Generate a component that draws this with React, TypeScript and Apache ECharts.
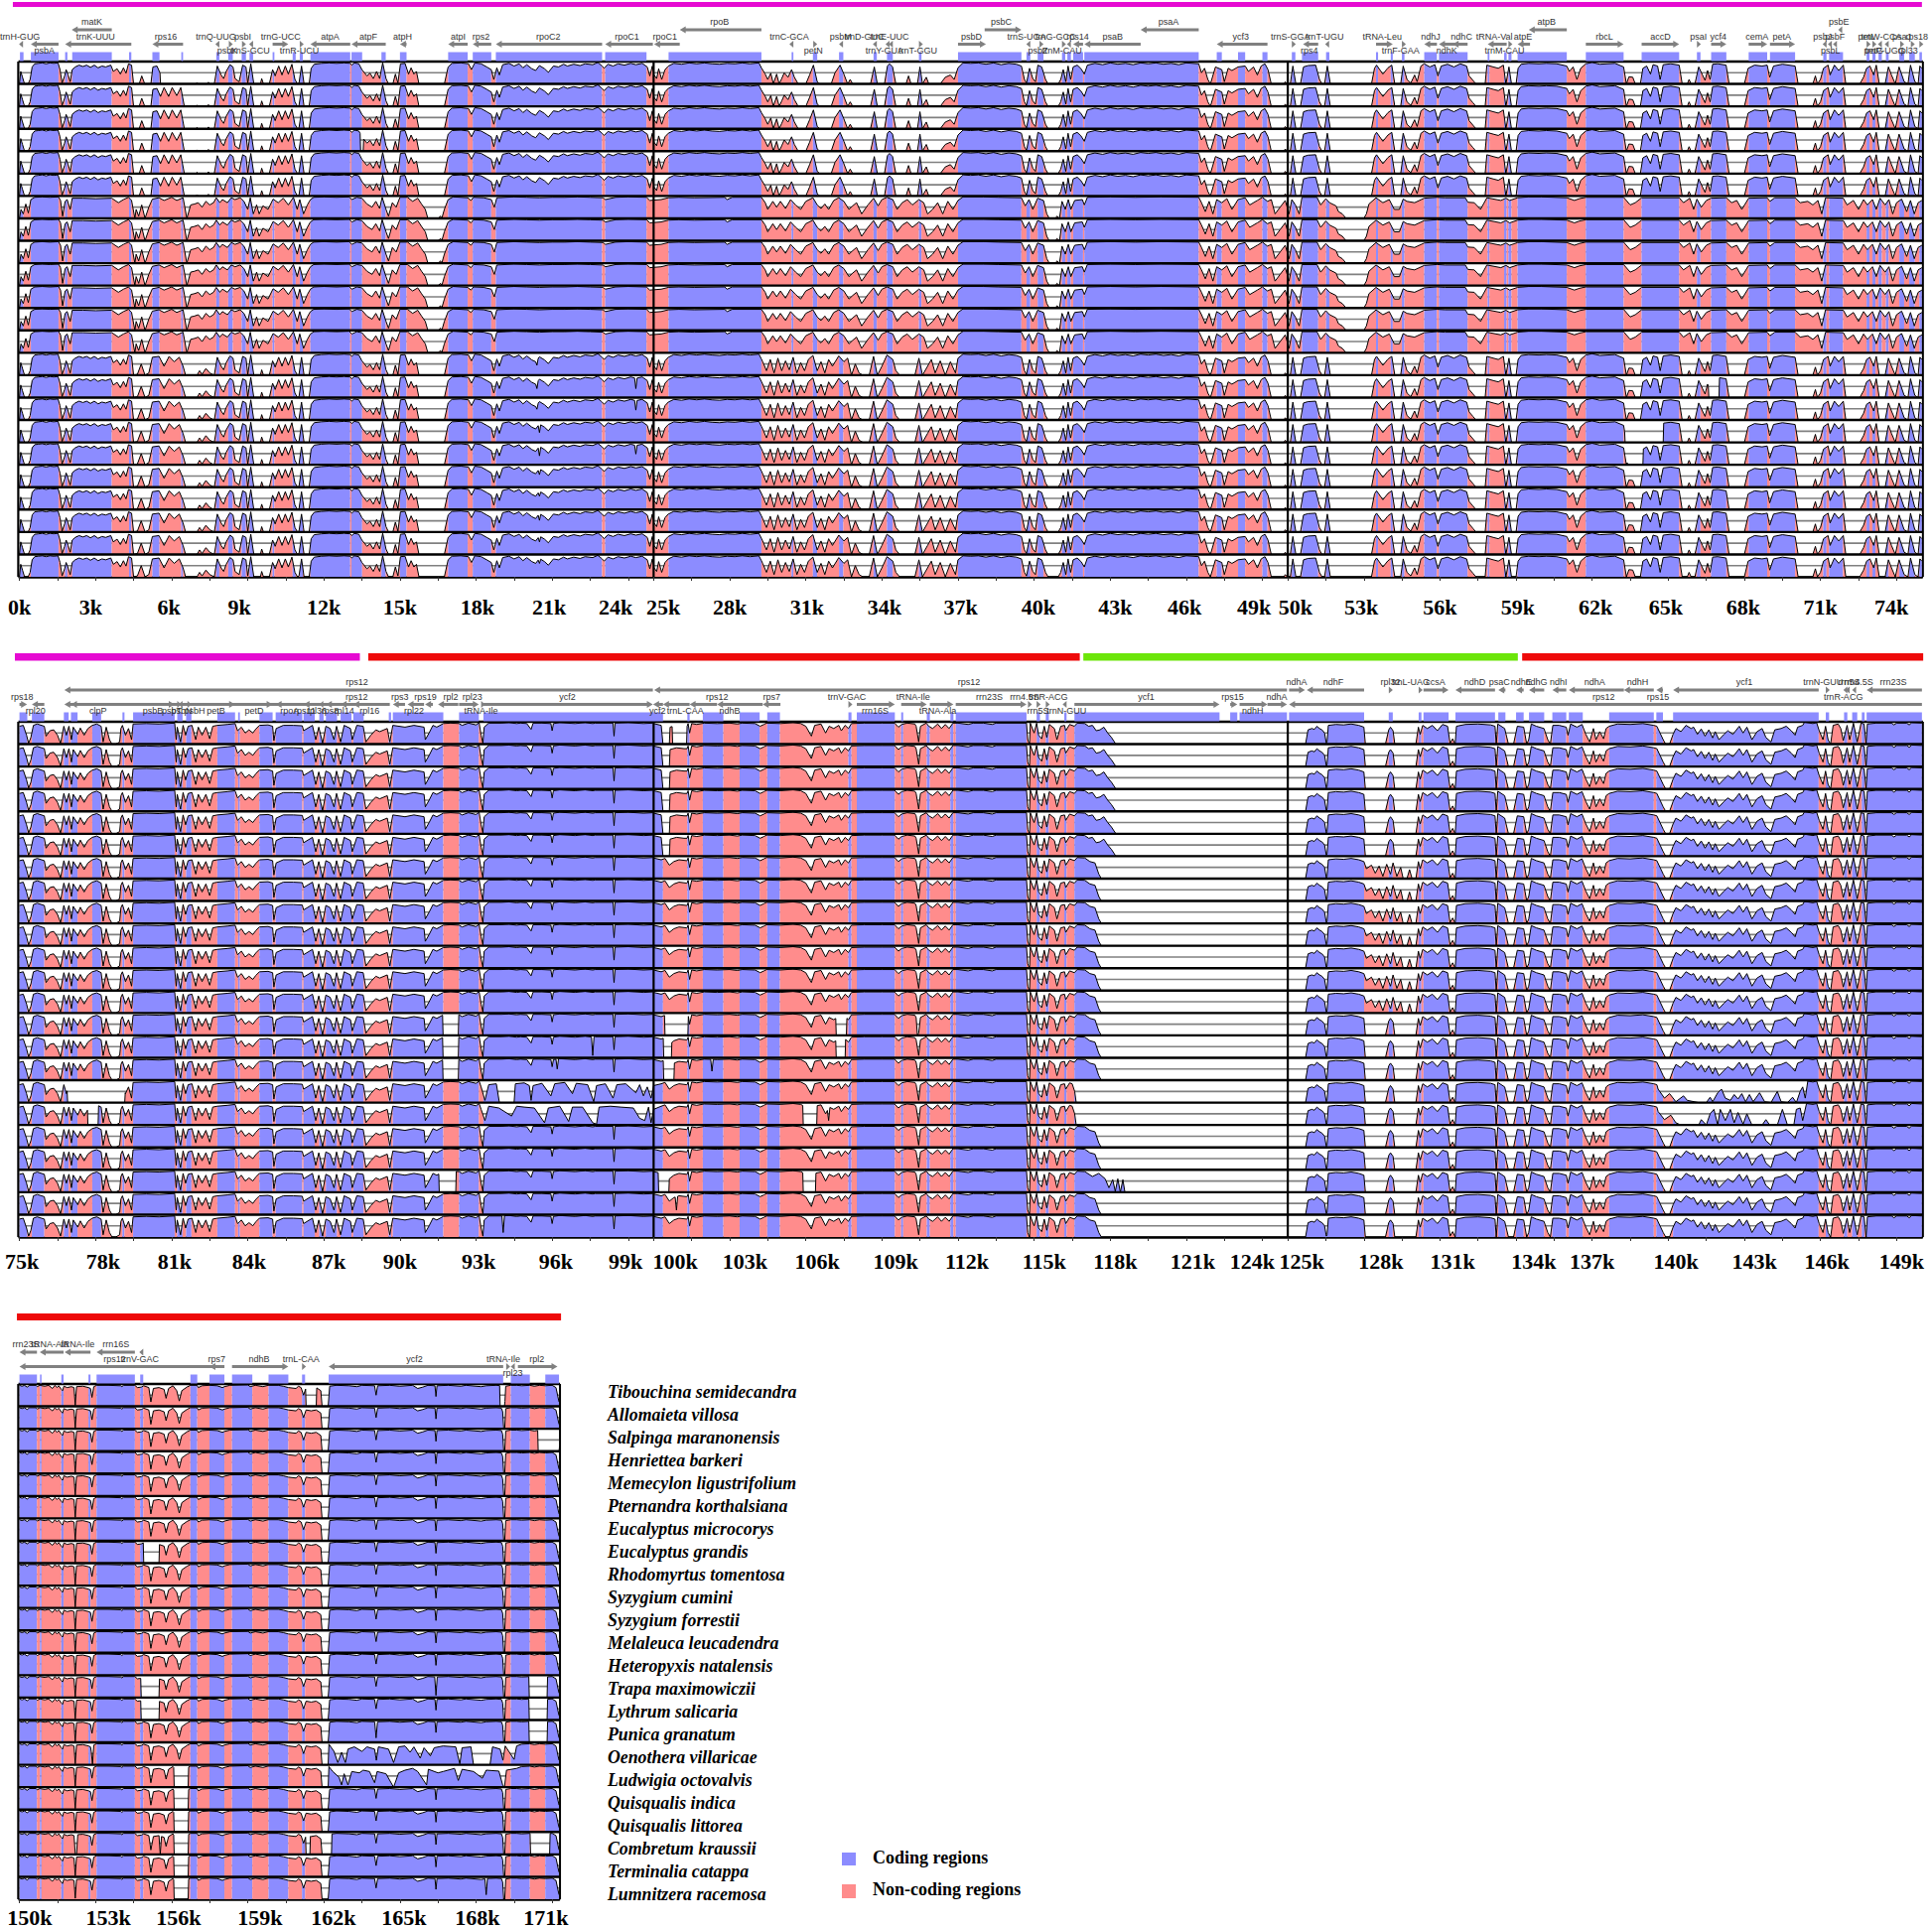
import React, { useEffect, useRef } from "react";
import * as echarts from "echarts";

const speciesNames = ["Tibouchina semidecandra","Allomaieta villosa","Salpinga maranonensis","Henriettea barkeri","Memecylon ligustrifolium","Pternandra korthalsiana","Eucalyptus microcorys","Eucalyptus grandis","Rhodomyrtus tomentosa","Syzygium cumini","Syzygium forrestii","Melaleuca leucadendra","Heteropyxis natalensis","Trapa maximowiczii","Lythrum salicaria","Punica granatum","Oenothera villaricae","Ludwigia octovalvis","Quisqualis indica","Quisqualis littorea","Combretum kraussii","Terminalia catappa","Lumnitzera racemosa"];

const p1Labels = ["0k","3k","6k","9k","12k","15k","18k","21k","24k","25k","28k","31k","34k","37k","40k","43k","46k","49k","50k","53k","56k","59k","62k","65k","68k","71k","74k"];
const p2Labels = ["75k","78k","81k","84k","87k","90k","93k","96k","99k","100k","103k","106k","109k","112k","115k","118k","121k","124k","125k","128k","131k","134k","137k","140k","143k","146k","149k"];
const p3Labels = ["150k","153k","156k","159k","162k","165k","168k","171k"];

const p1Coding = [0.02,0.16,0.45,1.54,1.8,1.89,2.08,3.64,4.32,4.41,5.24,5.52,6.38,6.45,7.76,7.88,8.23,8.41,8.76,8.93,9.07,9.21,9.98,10.05,10.77,10.89,11.05,11.17,11.47,13.04,13.09,13.51,14.27,14.44,15,15.26,16.9,17.67,17.87,18.6,18.78,22.97,23.09,24.72,25.59,29.25,30.44,30.51,31.28,31.45,32.31,32.48,33.67,33.8,34.2,34.43,35.46,35.56,37,39.5,39.7,39.85,40.14,40.37,41.1,41.23,41.31,41.45,41.54,41.93,41.98,46.49,47.2,47.4,48.04,48.32,49,49.2,50.16,50.3,50.56,51.2,51.51,51.64,53.48,53.56,54.06,54.14,54.5,54.6,55.38,55.88,55.96,57.09,57.88,57.95,58.53,58.63,58.7,58.82,59.06,61,61.75,63.24,63.95,65.43,66.13,66.27,66.69,67.29,68.17,68.9,69.01,70,71.11,71.24,71.34,71.89,72.82,72.93,73.05,73.17,73.29,73.42,73.58,73.69,74.11,74.3,74.5,74.72,74.9,75];
const p2Coding = [75,75.31,75.49,75.98,76.75,76.94,77.03,77.29,77.87,78.22,79.06,79.14,79.48,81.12,81.22,81.43,81.57,81.78,82.8,83.5,83.62,83.69,84.46,84.98,85.1,86.15,86.2,86.64,86.82,86.99,87.08,87.52,87.66,88.09,88.16,88.57,89.56,89.65,89.72,91.71,92.33,93.11,93.29,100.37,101.33,101.42,101.94,102.75,103.39,104.18,104.48,104.98,107.68,107.8,108.01,109.51,109.76,109.84,110.77,110.89,111.7,111.82,111.91,114.7,115.1,115.23,115.46,115.58,116.19,116.28,116.59,122.31,122.73,123.01,123.1,124.97,125.05,128.01,128.98,129.14,130.16,130.27,130.35,131.34,131.61,133.17,133.3,133.58,134,134.3,134.51,135.11,135.43,135.98,136.08,136.63,137.67,139.43,139.53,139.79,140.19,145.93,146.21,146.34,146.93,147.06,147.25,147.45,147.63,147.74,147.82,150];
const p3Coding = [150,150.69,150.81,150.87,151.65,151.74,152.72,152.8,153.04,154.55,154.76,154.88,156.74,157.01,157.49,158.08,158.38,159.18,159.82,160.6,161.14,161.26,162.19,169.07,169.37,170.12,170.73,171.27];

// [name, start, end, strand, arrow lane, label lane, label centre]
const p1Genes: any[] = [["trnH-GUG",.03,.14,-1,1,1,.02],["matK",2.06,3.64,-1,0,0,2.85],["psbA",.45,1.54,-1,1,2,.98],["trnK-UUU",1.8,4.41,-1,1,1,3],["rps16",5.24,6.45,-1,1,1,5.77],["trnQ-UUG",7.76,7.88,-1,1,1,7.75],["psbK",8.23,8.41,1,1,2,8.2],["psbI",8.76,8.93,1,1,1,8.8],["trnS-GCU",9.07,9.21,-1,1,2,9.1],["trnG-UCC",9.98,10.6,1,1,1,10.3],["trnR-UCU",11.05,11.17,1,1,2,11.03],["atpA",11.47,13.04,-1,1,1,12.25],["atpF",13.09,14.44,-1,1,1,13.75],["atpH",15,15.26,-1,1,1,15.1],["atpI",16.9,17.67,-1,1,1,17.3],["rps2",17.87,18.6,-1,1,1,18.2],["rpoC2",18.78,22.97,-1,1,1,20.85],["rpoC1",23.09,24.97,-1,1,1,23.95],["rpoC1",25.02,26.03,-1,1,1,25.45],["rpoB",26.03,29.25,-1,0,0,27.6],["trnC-GCA",30.44,30.51,-1,1,1,30.35],["petN",31.28,31.45,1,1,2,31.3],["psbM",32.31,32.48,-1,1,1,32.37],["trnD-GUC",33.67,33.8,-1,1,1,33.3],["trnY-GUA",34.2,34.3,-1,1,2,34.1],["trnE-UUC",34.32,34.43,-1,1,1,34.3],["trnT-GGU",35.46,35.56,1,1,2,35.42],["psbD",37,38.1,1,1,1,37.53],["psbC",38.05,39.5,1,0,0,38.7],["trnS-UGA",39.7,39.85,-1,1,1,39.7],["psbZ",40.14,40.37,1,1,2,40.15],["trnG-GCC",41.1,41.23,1,1,1,40.85],["trnM-CAU",41.31,41.45,-1,1,2,41.1],["rps14",41.54,41.93,-1,1,1,41.72],["psaB",41.98,44.2,-1,1,1,43.1],["psaA",44.2,46.49,-1,0,0,45.3],["ycf3",47.2,49.2,-1,1,1,48.15],["trnS-GGA",50.16,50.3,1,1,1,50.1],["rps4",50.6,51.2,-1,1,2,50.85],["trnT-UGU",51.5,51.63,-1,1,1,51.45],["tRNA-Leu",53.48,54.14,1,1,1,53.72],["trnF-GAA",54.5,54.6,1,1,2,54.45],["ndhJ",55.38,55.88,-1,1,1,55.63],["ndhK",55.96,56.72,-1,1,2,56.27],["ndhC",56.5,57.09,-1,1,1,56.85],["tRNA-Val",57.88,58.63,-1,1,1,58.14],["trnM-CAU",58.7,58.82,1,1,2,58.55],["atpE",59.06,59.55,-1,1,1,59.27],["atpB",59.5,61,-1,0,0,60.2],["rbcL",61.75,63.24,1,1,1,62.48],["accD",63.95,65.43,1,1,1,64.69],["psaI",66.13,66.27,1,1,1,66.19],["ycf4",66.69,67.29,1,1,1,66.97],["cemA",68.17,68.9,1,1,1,68.5],["petA",69.01,70,1,1,1,69.48],["psbJ",71.11,71.24,-1,1,1,71.08],["psbL",71.34,71.45,-1,1,2,71.4],["psbF",71.55,71.65,-1,1,1,71.57],["psbE",71.7,71.89,-1,0,0,71.73],["petL",72.82,72.93,1,1,1,72.82],["petG",73.05,73.17,1,1,2,73.1],["trnW-CCA",73.29,73.42,-1,1,1,73.4],["trnP-UGG",73.58,73.69,-1,1,2,73.55],["psaJ",74.11,74.3,1,1,1,74.2],["rpl33",74.5,74.72,1,1,2,74.45],["rps18",74.9,75,1,1,1,74.8]];
const p2Genes: any[] = [["rps18",75,75.3,1,1,1,75.1],["rpl20",75.49,75.98,-1,1,2,75.63],["rps12",76.77,99.97,-1,0,0,88.3],["rps12",76.77,88.65,-1,1,1,88.29],["clpP",77.03,78.22,-1,1,2,78.1],["psbB",79.48,81.12,1,1,2,80.26],["psbT",81.22,81.3,1,1,2,81],["psbN",81.35,81.43,-1,1,2,81.4],["psbH",81.57,81.78,1,1,2,81.9],["petB",82.8,83.5,1,1,2,82.75],["petD",84.46,84.98,1,1,2,84.25],["rpoA",85.1,86.15,-1,1,2,85.65],["rps11",86.2,86.64,-1,1,2,86.25],["rpl36",86.82,86.99,-1,1,2,86.72],["rps8",87.08,87.52,-1,1,2,87.25],["rpl14",87.66,88.09,-1,1,2,87.8],["rpl16",88.16,89.6,-1,1,2,88.8],["rps3",89.72,90.2,-1,1,1,90],["rpl22",90.3,90.95,-1,1,2,90.55],["rps19",90.99,91.3,-1,1,1,91],["rpl2",91.5,92.3,-1,1,1,92],["rpl23",92.33,93.11,1,1,1,92.85],["tRNA-Ile",93.2,93.28,1,1,2,93.2],["ycf2",93.29,99.97,1,1,1,96.6],["ycf2",99.98,100.37,-1,1,2,100.15],["trnL-CAA",100.37,101.42,-1,1,2,101.25],["rps12",101.42,102.5,-1,1,1,102.5],["ndhB",102.5,104.3,-1,1,2,103],["rps7",104.3,105,-1,1,1,104.65],["rps12",100.02,124.97,-1,0,0,112.43],["trnV-GAC",107.68,107.8,1,1,1,107.62],["rrn16S",108.01,109.51,1,1,2,108.73],["tRNA-Ile",109.76,110.77,1,1,1,110.23],["tRNA-Ala",110.89,111.82,1,1,2,111.2],["rrn23S",111.91,114.7,1,1,1,113.24],["rrn4.5S",114.76,114.88,1,1,1,114.62],["rrn5S",115.1,115.23,1,1,2,115.15],["trnR-ACG",115.46,115.58,1,1,1,115.55],["trnN-GUU",116.19,116.28,-1,1,2,116.28],["ycf1",116.59,122.31,1,1,1,119.42],["rps15",122.73,123.01,1,1,1,122.82],["ndhH",123.1,124.2,1,1,2,123.62],["ndhA",124.2,124.97,1,1,1,124.57],["ndhA",125.05,125.68,1,0,0,125.35],["ndhF",125.75,128.01,-1,0,0,126.8],["rps12",125.05,150,-1,1,1,137.45],["rpl32",128.98,129.14,1,0,0,129.05],["trnL-UAG",130.16,130.27,1,0,0,129.85],["ccsA",130.35,131.34,1,0,0,130.83],["ndhD",131.61,133.17,-1,0,0,132.37],["psaC",133.3,133.58,-1,0,0,133.34],["ndhE",134,134.3,-1,0,0,134.2],["ndhG",134.51,135.11,-1,0,0,134.8],["ndhI",135.43,135.98,-1,0,0,135.67],["ndhA",136.08,138.25,-1,0,0,137.1],["ndhH",138.25,139.43,-1,0,0,138.79],["rps15",139.53,139.79,-1,0,1,139.6],["ycf1",140.19,145.93,-1,0,0,143],["trnN-GUU",146.21,146.34,1,0,0,146.1],["trnR-ACG",146.93,147.06,-1,0,1,146.9],["rrn5S",147.05,147.15,-1,0,0,147.13],["rrn4.5S",147.25,147.45,-1,0,0,147.5],["rrn23S",147.82,150,-1,0,0,148.87]];
const p3Genes: any[] = [["rrn23S",150,150.69,-1,0,0,150.25],["tRNA-Ala",150.8,151.74,-1,0,0,151.2],["tRNA-Ile",151.78,152.8,-1,0,0,152.3],["rrn16S",153.04,154.55,-1,0,0,153.8],["trnV-GAC",154.76,154.88,-1,0,1,154.74],["rps12",150,158.08,-1,1,1,153.75],["rps7",157.49,158.08,-1,1,1,157.78],["ndhB",158.38,160.6,1,1,1,159.45],["trnL-CAA",161.14,161.26,1,1,1,161.1],["ycf2",162.19,169.07,-1,1,1,165.57],["tRNA-Ile",169.19,169.27,1,1,1,169.08],["rpl23",169.37,169.6,-1,1,2,169.45],["rpl2",169.65,171.21,1,1,1,170.4]];

// conservation (% identity, 50–100) read as kb, pct pairs
const p1A = [0,50,.05,78,.12,65,.2,50,.34,50,.42,60,.5,88,.6,95,.75,96,.9,97,1.05,95,1.2,97,1.35,96,1.52,97,1.6,82,1.68,52,1.78,68,1.84,82,1.92,70,2,55,2.08,82,2.2,88,2.35,92,2.5,89,2.65,92,2.8,87,2.95,92,3.1,86,3.25,90,3.4,88,3.6,92,3.7,78,3.85,84,3.98,72,4.1,86,4.2,74,4.3,95,4.42,92,4.5,50,4.72,50,4.82,68,4.94,50,5.18,50,5.26,88,5.42,90,5.56,72,5.7,92,5.88,72,6.02,92,6.2,74,6.36,92,6.5,50,6.95,50,7,53,7.05,50,7.4,50,7.45,54,7.5,50,7.68,50,7.8,90,7.95,70,8.05,62,8.15,78,8.3,93,8.42,88,8.5,62,8.66,55,8.8,92,8.93,88,9,52,9.12,95,9.24,50,9.5,50,9.55,62,9.62,50,9.85,50,9.98,82,10.08,68,10.22,90,10.35,70,10.48,90,10.6,72,10.74,94,10.86,60,10.96,50,11.02,52,11.12,90,11.22,50,11.42,50,11.5,85,11.62,94,11.9,96,12.2,97,12.5,96,12.8,97,13.04,96,13.1,92,13.2,97,13.38,95,13.5,82,13.7,68,13.82,74,13.95,62,14.08,78,14.2,62,14.32,97,14.45,62,14.55,50,14.72,50,14.82,72,14.92,52,15.02,95,15.2,96,15.34,72,15.44,86,15.55,72,15.65,78,15.75,50,16.75,50,16.9,88,17.05,96,17.4,97,17.7,95,17.82,82,17.95,97,18.2,95,18.42,88,18.6,82,18.7,60,18.82,86,18.92,70,19.05,93,19.3,96,19.5,90,19.7,95,19.85,86,20,93,20.2,84,20.35,80,20.5,91,20.7,84,20.85,76,21.05,90,21.25,88,21.45,94,21.6,90,21.85,94,22.1,91,22.3,95,22.6,93,22.8,98,22.97,90,23.05,85,23.2,94,23.4,90,23.6,95,23.85,92,24.1,96,24.3,93,24.55,96,24.75,88,24.85,68,24.95,90,25.02,70,25.12,62,25.2,84,25.32,60,25.45,82,25.58,90,25.8,96,26.1,94,26.4,97,26.7,95,27,97,27.3,95,27.6,94,27.9,96,28.2,95,28.5,97,28.8,95,29.15,97,29.25,86,29.4,72,29.5,60,29.62,74,29.72,50,29.85,72,29.95,50,30.05,62,30.15,75,30.3,65,30.44,82,30.55,65,30.7,50,31,50,31.15,70,31.3,92,31.45,55,31.55,50,32,50,32.15,75,32.35,92,32.5,72,32.65,50,32.75,60,32.85,50,33.55,50,33.7,88,33.82,50,34.1,50,34.22,90,34.3,95,34.42,88,34.55,50,34.95,50,35.05,68,35.15,50,35.4,50,35.5,88,35.6,50,35.75,65,35.85,50,36.3,50,36.5,65,36.7,70,36.85,60,37,86,37.2,97,37.5,96,37.8,97,38.1,94,38.4,97,38.7,93,39,96,39.3,94,39.5,90,39.62,60,39.7,52,39.82,85,39.95,62,40.05,55,40.15,92,40.3,88,40.45,60,40.55,50,40.95,50,41.05,60,41.15,82,41.25,55,41.34,90,41.44,60,41.54,88,41.7,92,41.85,84,41.98,72,42.1,92,42.4,96,42.7,93,43,97,43.3,94,43.6,96,43.9,93,44.2,97,44.5,95,44.8,97,45.1,94,45.4,96,45.7,93,46,97,46.49,95,46.6,75,46.72,85,46.85,60,46.95,50,47.15,88,47.4,82,47.5,55,47.65,85,47.8,80,48.04,88,48.32,90,48.45,78,48.65,88,48.8,70,48.95,90,49.1,95,49.22,82,49.35,50,49.85,50,49.9,55,49.98,50,50.1,50,50.2,90,50.32,50,50.5,50,50.62,88,50.8,91,51.1,92,51.25,60,51.35,50,51.45,50,51.56,90,51.68,50,53.3,50,53.42,85,53.5,92,53.75,72,53.95,86,54.1,92,54.22,50,54.45,50,54.55,90,54.7,60,54.85,52,55,70,55.1,55,55.25,90,55.38,95,55.6,88,55.8,93,55.92,68,56.05,90,56.3,94,56.55,88,56.8,95,57.05,90,57.15,68,57.3,58,57.42,50,57.78,50,57.85,92,58.1,88,58.3,85,58.5,92,58.6,50,58.72,88,58.82,50,59,50,59.08,85,59.2,94,59.5,96,59.9,95,60.2,96,60.6,95,61,90,61.1,78,61.25,88,61.4,60,61.55,85,61.75,95,62,98,62.3,94,62.6,95,62.9,96,63.24,88,63.35,50,63.45,66,63.6,65,63.7,50,63.9,50,64,85,64.15,90,64.3,72,64.4,93,64.58,90,64.68,60,64.8,93,65.1,95,65.43,92,65.55,50,65.75,50,65.82,60,65.9,50,66.05,50,66.2,88,66.35,70,66.45,58,66.55,80,66.65,60,66.75,94,66.95,95,67.28,92,67.4,50,68,50,68.15,85,68.4,92,68.7,90,68.9,92,69,65,69.15,90,69.5,94,70,90,70.12,50,70.7,50,70.8,68,70.88,50,71,60,71.12,85,71.3,92,71.38,70,71.55,92,71.72,80,71.9,92,72,50,72.55,50,72.7,65,72.82,85,72.95,90,73.1,70,73.2,92,73.32,50,73.55,50,73.68,88,73.8,70,73.95,50,74.1,88,74.3,55,74.45,50,74.55,92,74.72,55,74.85,50,74.92,90,75,85];
const p1B = [0,50,.06,70,.15,60,.25,82,.35,62,.45,92,.6,97,.9,98,1.2,97,1.54,98,1.62,90,1.7,55,1.8,88,1.88,92,2,70,2.08,95,2.5,95,3,94,3.64,95,3.9,85,4.1,92,4.3,97,4.42,90,4.55,50,4.6,70,4.7,55,4.82,80,4.95,50,5.1,75,5.24,93,5.5,96,5.7,90,6,97,6.2,90,6.45,96,6.6,50,6.75,80,6.9,82,7.05,85,7.2,75,7.35,88,7.5,80,7.65,85,7.76,96,7.9,85,8,92,8.2,85,8.35,96,8.5,92,8.7,96,8.85,88,9,70,9.1,96,9.22,60,9.35,80,9.45,60,9.6,78,9.8,70,10,93,10.2,85,10.4,95,10.6,80,10.8,97,10.95,70,11.05,92,11.2,60,11.35,80,11.47,92,11.6,97,12,98,12.5,97,13,98,13.1,92,13.3,97,13.5,95,13.7,82,13.9,75,14.05,88,14.2,72,14.3,97,14.45,70,14.55,55,14.7,85,14.85,75,15,97,15.3,97,15.5,88,15.7,95,15.85,82,16,70,16.1,50,16.5,50,16.6,55,16.65,50,16.75,70,16.9,92,17.1,98,17.67,96,17.8,90,17.9,97,18.3,96,18.6,92,18.72,75,18.82,96,19.5,98,20,97,20.5,96,21,97,21.5,97,22,98,22.5,97,23,96,23.1,92,23.5,97,24,98,24.72,97,24.85,90,25.3,92,25.58,96,26,97,26.6,96,27.8,97,27.9,92,28.1,97,29.25,97,29.4,85,29.5,70,29.7,88,29.85,75,30,88,30.2,72,30.4,92,30.6,80,30.8,70,31,88,31.28,96,31.45,80,31.6,72,31.75,82,31.9,70,32.1,90,32.3,96,32.5,88,32.7,70,32.85,78,33,85,33.2,60,33.45,80,33.67,95,33.85,78,34,92,34.2,97,34.43,92,34.6,70,34.8,85,35,92,35.2,80,35.46,92,35.65,85,35.8,60,36,70,36.2,85,36.4,60,36.6,88,36.8,70,37,90,37.2,98,38,98,38.6,97,39.5,96,39.65,78,39.8,92,39.95,70,40.14,95,40.37,90,40.5,60,40.6,50,40.85,50,40.9,55,41,50,41.1,88,41.23,70,41.35,92,41.45,70,41.6,90,41.9,92,41.98,80,42.1,97,43,98,44,97,45,98,46.49,97,46.6,85,46.75,65,46.9,88,47.05,60,47.2,92,47.4,85,47.6,94,47.8,70,48.04,92,48.32,96,48.5,80,48.8,90,49,97,49.2,88,49.35,92,49.5,60,49.7,75,49.9,90,50.05,60,50.16,92,50.3,80,50.45,60,50.56,97,51.15,97,51.3,80,51.5,94,51.65,85,51.9,78,52,65,52.15,60,52.3,50,53,50,53.1,60,53.2,82,53.48,96,53.75,85,54,92,54.2,70,54.4,70,54.55,93,54.7,88,55,85,55.38,95,55.88,97,56.2,96,57,96,57.1,86,57.35,85,57.6,70,57.85,96,58.4,90,58.6,95,58.75,90,59.06,96,59.5,98,60,98,61,96,61.3,90,61.5,94,61.75,97,63.24,97,63.5,80,63.7,85,63.95,96,65.43,96,65.6,85,65.85,95,66,70,66.13,93,66.3,75,66.5,90,66.69,95,67.29,96,67.5,85,67.7,90,67.9,70,68.17,95,68.9,96,69.01,88,69.2,96,70,96,70.2,85,70.5,88,70.7,80,70.9,90,71.05,60,71.2,96,71.9,95,72.05,80,72.3,90,72.5,70,72.7,92,72.85,80,73.05,92,73.2,70,73.35,95,73.55,80,73.7,92,73.85,60,74,85,74.2,93,74.4,65,74.55,90,74.7,60,74.85,85,75,90];
const p1LowerEarly = [4.5,50,4.65,52,4.8,75,4.95,50,5.1,55,5.24,90,5.5,92,5.7,70,5.9,92,6.1,80,6.3,90,6.45,70,6.55,50,7,50,7.1,60,7.2,52,7.35,65,7.5,55,7.68,50];
const p1LowerMid = [29.3,80,29.45,60,29.6,85,29.75,55,29.9,88,30.05,60,30.2,82,30.35,62,30.5,90,30.65,55,30.8,78,30.95,60,31.1,85,31.28,94,31.45,60,31.6,80,31.75,55,31.9,85,32.05,70,32.3,93,32.5,80,32.65,88,32.8,50,32.95,75,33.1,55,33.25,50,33.5,50,33.67,92,33.82,50,34,70,34.2,95,34.43,85,34.55,60,34.7,50,35.3,50,35.46,88,35.6,50,35.8,70,35.95,85,36.1,55,36.3,82,36.5,50,36.7,80,36.9,55,37,88];

const p2Base = [75,90,75.15,92,75.28,70,75.36,52,75.45,65,75.55,92,75.7,95,75.98,90,76.05,68,76.2,80,76.35,82,76.5,70,76.62,52,76.75,90,76.85,70,76.95,90,77.05,60,77.12,88,77.3,72,77.4,86,77.55,70,77.7,85,77.87,92,78.05,95,78.22,90,78.3,55,78.42,88,78.55,60,78.65,50,78.8,50,78.95,55,79,85,79.06,92,79.18,70,79.3,85,79.42,60,79.48,95,80,96,80.5,95,81.12,97,81.18,60,81.22,88,81.35,55,81.45,92,81.55,70,81.65,90,81.8,92,81.95,60,82.05,88,82.2,70,82.35,88,82.5,62,82.62,90,82.8,92,83.2,94,83.5,96,83.6,80,83.75,88,83.9,75,84.05,82,84.2,75,84.32,84,84.46,92,84.8,93,84.98,90,85.03,58,85.12,85,85.4,92,85.8,92,86.15,91,86.2,80,86.55,92,86.68,60,86.8,88,86.95,52,87.08,90,87.25,85,87.4,60,87.5,90,87.66,55,87.8,92,88.05,85,88.12,60,88.3,92,88.55,90,88.66,55,88.85,70,89.05,82,89.2,78,89.5,85,89.6,55,89.72,92,90.2,88,90.55,92,90.95,88,91,60,91.15,75,91.3,92,91.45,88,91.71,96,92,97,92.33,96,92.45,92,92.7,97,93,93,93.12,98,93.2,70,93.27,52,93.32,88,93.5,97,94,97,94.3,98,94.6,96,94.75,97,95,96,95.17,83,95.25,97,95.6,97,95.95,96,96,80,96.05,96,96.3,98,96.9,96,97.3,98,97.6,96,97.7,97,98.4,97,98.44,68,98.48,97,99,98,99.6,96,99.97,97,100,96,100.3,92,100.37,50,100.62,50,100.65,88,100.9,92,101.2,90,101.32,90,101.36,96,101.42,75,101.5,96,101.7,94,102,97,102.5,96,103,97,103.3,95,103.5,97,104,96,104.2,90,104.35,94,104.45,97,105,96,105.5,98,105.8,96,106,90,106.22,68,106.35,92,106.6,95,106.78,75,106.92,90,107.1,85,107.3,92,107.4,80,107.55,92,107.68,85,107.8,96,108.3,97,109,97,109.5,97,109.65,88,109.78,94,110,97,110.3,95,110.35,90,110.45,55,110.52,90,110.75,97,110.85,90,111,85,111.2,95,111.35,85,111.5,94,111.65,85,111.8,97,112,97,112.4,94,112.6,97,113,97,113.35,94,113.5,97,114.7,97,114.75,60,114.82,50,114.85,97,115,75,115.1,97,115.18,70,115.3,62,115.4,90,115.5,65,115.6,94,115.8,85,115.9,60,116.05,90,116.2,92,116.25,80,116.4,94,116.59,90,116.7,97,117,96,117.15,90,117.3,92,117.45,80,117.6,82,117.75,88,117.9,75,118.05,65,118.2,52,118.25,50,125.7,50,125.8,82,125.95,85,126.05,83,126.15,90,126.25,85,126.35,82,126.45,75,126.52,52,126.55,55,126.6,92,126.9,94,127.2,93,127.5,95,127.8,92,128,88,128.06,50,128.85,50,128.98,82,129.05,88,129.15,80,129.22,50,130.05,50,130.15,88,130.22,72,130.32,92,130.5,85,130.7,92,130.9,80,131.1,94,131.3,90,131.4,52,131.5,62,131.6,50,131.65,90,132,94,132.5,95,133,93,133.17,90,133.22,50,133.28,95,133.55,85,133.7,50,133.9,50,134.05,90,134.3,88,134.42,50,134.5,60,134.6,95,134.8,90,135.1,85,135.25,60,135.35,50,135.45,92,135.7,92,135.98,88,136.05,70,136.15,95,136.4,88,136.6,94,136.75,72,136.9,55,137.05,85,137.15,60,137.3,78,137.45,62,137.55,85,137.67,90,138,95,138.5,94,139,96,139.43,92,139.55,90,139.8,60,139.9,50,140.05,50,140.19,72,140.3,85,140.5,78,140.7,92,140.9,85,141,88,141.15,72,141.3,84,141.45,68,141.6,82,141.75,64,141.85,78,142,60,142.2,72,142.35,80,142.55,72,142.8,90,142.95,75,143.1,88,143.3,60,143.5,78,143.7,85,143.85,65,144.05,55,144.2,82,144.45,85,144.65,90,144.85,80,145,70,145.1,88,145.3,92,145.37,99,145.7,96,145.85,98,145.95,80,146.1,60,146.2,90,146.3,60,146.4,50,146.5,92,146.7,95,146.8,85,146.9,58,147.05,92,147.15,60,147.3,97,147.45,55,147.6,97,147.72,95,147.8,50,147.85,95,148.2,97,148.8,97,148.9,93,149,97,149.4,97,149.5,93,149.6,98,150,97];
const p2SscPink = [128,88,128.1,72,128.3,80,128.45,62,128.6,78,128.75,55,128.9,82,129.05,60,129.15,85,129.3,55,129.45,75,129.55,50,129.7,50,129.8,70,129.9,50];
const p2TrnLFilled = [100.3,92,100.45,95,100.62,80,100.8,88,101,92,101.3,90];
const p2Ycf1End = [116.7,97,117,96,117.2,88,117.4,85,117.55,60,117.65,50,118.3,50];
const p2OnagEnd = [116.5,92,116.6,75,116.66,50,118.3,50];
const p2CombEnd = [116.7,97,117,96,117.3,85,117.55,92,117.8,80,117.95,60,118.1,78,118.2,52,118.3,80,118.4,50,118.5,78,118.58,50];
const p2OenoYcf2 = [93.2,85,93.35,55,93.5,90,93.8,92,93.92,50,94.5,50,94.55,92,94.9,94,95.1,88,95.17,55,95.25,88,95.6,93,95.95,65,96.1,92,96.5,95,96.8,70,96.95,93,97.4,90,97.64,52,97.75,88,98.1,92,98.4,60,98.55,90,98.9,92,99.3,72,99.45,90,99.6,65,99.75,85,99.9,60,100,88];
const p2LudwYcf2 = [93.2,85,93.35,60,93.5,92,93.9,88,94.4,70,94.6,92,94.9,90,95.3,88,95.7,55,95.85,88,96.3,92,96.65,58,96.8,90,97.2,90,97.6,55,97.75,52,97.85,90,98.3,92,98.7,90,99.2,88,99.45,65,99.65,60,99.8,90,99.9,55,100,85];
const p2OenoYcf1 = [139.6,80,139.85,60,140.05,70,140.3,52,140.6,65,140.75,55,141.2,50,141.5,50,141.65,62,141.75,52,141.95,72,142.1,80,142.25,60,142.45,55,142.6,68,142.75,58,142.9,70,143.05,52,143.2,68,143.35,52,143.6,72,143.8,52,144.05,50,144.3,75,144.45,52,144.7,50,144.9,62,145.05,50,145.2,75,145.3,85,145.4,60,145.5,98];
const p2LudwYcf1 = [139.6,80,139.85,62,140.1,72,140.3,55,140.5,50,141.2,50,141.3,62,141.5,50,141.65,75,141.8,85,141.95,50,142.05,85,142.25,60,142.45,85,142.6,55,142.75,78,142.95,52,143.1,75,143.3,50,143.7,50,143.85,62,144,50,144.3,50,144.5,85,144.7,50,144.95,50,145.05,85,145.2,88,145.3,60,145.45,98];

const p3Base = [150,97,150.1,95,150.2,97,150.3,93,150.4,97,150.65,97,150.7,94,150.8,97,151,95,151.15,97,151.3,90,151.4,97,151.48,92,151.55,96,151.65,88,151.7,85,151.75,95,151.88,92,152.05,94,152.15,92,152.2,52,152.25,94,152.5,95,152.72,92,152.8,90,152.86,70,152.93,94,153.04,97,153.5,97,154,96,154.04,94,154.1,97,154.55,97,154.65,92,154.8,93,154.9,96,155.1,92,155.18,60,155.28,90,155.5,92,155.7,88,155.78,68,155.88,90,156.05,96,156.2,85,156.3,62,156.4,85,156.6,93,156.74,97,157,97,157.05,92,157.2,96,157.49,97,157.8,96,158,92,158.08,94,158.3,97,159,98,159.1,94,159.3,97,159.6,94,159.8,97,160.2,97,160.4,95,160.6,92,160.9,90,161,95,161.1,92,161.2,75,161.3,92,161.5,90,161.7,92,161.88,85,161.93,50,162.17,50,162.23,95,162.5,97,163,96,163.3,94,163.5,97,164,96,164.06,75,164.12,96,164.6,97,165,95,165.5,97,165.7,90,165.9,93,166.1,97,166.38,96,166.42,72,166.46,96,166.9,97,167.4,95,167.6,97,168.2,94,168.4,96,168.8,97,169,96,169.05,88,169.09,50,169.13,50,169.17,95,169.37,97,169.6,97,169.8,96,170.12,97,170.3,95,170.5,97,170.73,96,171,97,171.15,92,171.27,60];
const p3OenoYcf2 = [162.2,96,162.4,80,162.55,55,162.7,78,162.85,55,162.95,85,163.2,90,163.5,80,163.7,90,164,85,164.07,60,164.15,90,164.55,85,164.75,55,164.95,90,165.2,92,165.4,78,165.55,90,165.8,65,165.95,88,166.2,70,166.35,88,166.7,92,167.2,90,167.36,52,167.45,88,167.8,90,167.9,50,168.55,50,168.65,90,168.95,85,169.06,60,169.15,92,169.5,62,169.6,92];
const p3LudwYcf2 = [162.2,96,162.35,85,162.6,72,162.7,55,162.8,80,162.95,55,163.1,85,163.4,82,163.55,88,163.8,85,164,60,164.1,85,164.45,80,164.75,50,164.95,82,165.2,88,165.5,92,165.7,85,166.05,55,166.12,90,166.5,82,166.7,85,167.15,92,167.3,65,167.45,90,167.9,85,168.25,70,168.4,88,168.9,86,169.05,55,169.12,50,169.2,88,169.6,92];

// [first row, last row, replacement stretch]
const p1Stretches: any[] = [[6,12,p1B],[13,22,p1LowerEarly],[13,22,p1LowerMid]];
const p2Stretches: any[] = [[6,22,p2TrnLFilled],[6,12,p2SscPink],[6,22,p2Ycf1End],[16,17,p2OnagEnd],[20,20,p2CombEnd],[16,16,p2OenoYcf2],[17,17,p2LudwYcf2],[16,16,p2OenoYcf1],[17,17,p2LudwYcf1]];
const p3Stretches: any[] = [[16,16,p3OenoYcf2],[17,17,p3LudwYcf2]];
// [row, from kb, to kb]: no alignment above 50 %
const p1Gaps = [[0,5.56,6.5],[16,63.3,64.8],[17,63.4,64.0],[14,66.6,67],[3,13.45,13.55]];
const p2Gaps = [[0,100.75,101.3],[13,91.7,92.3],[14,91.7,92.3],[15,91.7,92.3],[20,91.55,92.2],[13,100.45,101.35],[14,100.4,100.7],[15,100.4,100.8],[20,100.2,100.6],[13,107.2,107.6],[14,107.2,107.55],[17,105.9,106.43],[20,105.9,106.38],[16,76.9,79.15],[17,77.7,78.1]];
const p3Gaps = [[0,161.3,161.7],[0,168.95,169.12],[2,170.45,171.27],[7,154.9,155.5],[13,154.8,155.5],[14,154.8,155.5],[13,170.1,170.8],[14,170.1,170.8],[15,170.1,170.8],[20,170.15,170.9],[17,156.1,156.65],[18,156.1,156.65],[19,156.1,156.65],[20,156.1,156.65],[21,156.1,156.65],[22,156.1,156.65],[20,161.3,161.45],[20,161.95,162.3]];
// [row, kb, pct]: narrow dips
const p1Dips = [[13,20.4,72],[14,20.4,70],[15,20.4,74],[16,20.5,72],[17,20.5,70],[18,20.5,78],[19,20.5,80],[20,20.5,76],[21,20.5,78],[22,20.5,80],[14,24.3,70],[15,24.3,72],[17,24.3,74]];
const p2Dips = [[13,110.4,50],[14,97.6,55],[15,102.3,70],[15,96.2,75],[17,106.9,60],[22,94.07,60],[21,100.9,60]];
const p3Dips = [[16,152.88,50],[20,152.25,50],[20,155.55,50],[22,168.4,60],[13,166.42,55],[15,164.06,60]];

const p1Breaks = [0,25,50];
const p2Breaks = [75,100,125];
const p3Breaks = [150];

// [colour index, from kb, to kb]
const p1Sections = [[0,-0.26,75]];
const p2Sections = [[0,74.82,88.42],[1,88.75,116.8],[2,116.94,134.07],[1,134.24,150.05]];
const p3Sections = [[1,149.9,171.35]];
const sectionColors = ["#E60AD2","#EE0A0A","#6CE60A"];

const CODING = "#8C8CFF";
const NONCODING = "#FF8C8C";
const GREY = "#808080";
const ROWS = 23;
const PXK = 25.55;

// where each tick label sits in the picture, in kb
const p1LabelAt = [0,2.81,5.89,8.67,12,15,18.05,20.88,23.5,25.38,28,31.05,34.1,37.1,40.17,43.2,45.93,48.67,50.3,52.9,56,59.07,62.13,64.9,67.96,71,73.8];
const p2LabelAt = [75.1,78.3,81.12,84.05,87.19,90,93.1,96.15,98.9,100.85,103.6,106.45,109.54,112.35,115.4,118.2,121.25,123.6,125.55,128.67,131.5,134.7,137,140.3,143.4,146.25,149.2];
const p3LabelAt = [150.4,153.5,156.27,159.48,162.38,165.16,168.05,170.75];

const toPts = (a: number[]) => { const o: number[][] = []; for (let i = 0; i < a.length; i += 2) o.push([a[i], a[i + 1]]); return o; };
const interp = (pts: number[][], x: number) => {
  if (x <= pts[0][0]) return pts[0][1];
  for (let i = 1; i < pts.length; i++) {
    if (x <= pts[i][0]) {
      const [a, b] = [pts[i - 1], pts[i]];
      return b[0] === a[0] ? b[1] : a[1] + ((b[1] - a[1]) * (x - a[0])) / (b[0] - a[0]);
    }
  }
  return pts[pts.length - 1][1];
};
const splice = (pts: number[][], patch: number[][]) => {
  const s = patch[0][0], e = patch[patch.length - 1][0];
  return [...pts.filter((p) => p[0] < s), ...patch, ...pts.filter((p) => p[0] > e)];
};
const rowProfile = (base: number[], stretches: any[], gaps: number[][], dips: number[][], row: number) => {
  let pts = toPts(base);
  stretches.forEach(([a, b, arr]) => { if (row >= a && row <= b) pts = splice(pts, toPts(arr)); });
  gaps.forEach(([r, s, e]) => { if (r === row) pts = splice(pts, [[s - 0.02, interp(pts, s - 0.02)], [s, 50], [e, 50], [e + 0.02, interp(pts, e + 0.02)]]); });
  dips.forEach(([r, k, v]) => { if (r === row) pts = splice(pts, [[k - 0.05, interp(pts, k - 0.05)], [k, v], [k + 0.05, interp(pts, k + 0.05)]]); });
  return pts;
};

const panels = [
  { min: 0, max: 75, top: 62, coding: p1Coding, genes: p1Genes, sections: p1Sections, labels: p1Labels, labelAt: p1LabelAt, breaks: p1Breaks, base: p1A, stretches: p1Stretches, gaps: p1Gaps, dips: p1Dips, margin: 19, barTop: 2, barH: 5 },
  { min: 75, max: 150, top: 727, coding: p2Coding, genes: p2Genes, sections: p2Sections, labels: p2Labels, labelAt: p2LabelAt, breaks: p2Breaks, base: p2Base, stretches: p2Stretches, gaps: p2Gaps, dips: p2Dips, margin: 13, barTop: 658, barH: 7.5 },
  { min: 150, max: 171.27, top: 1394, coding: p3Coding, genes: p3Genes, sections: p3Sections, labels: p3Labels, labelAt: p3LabelAt, breaks: p3Breaks, base: p3Base, stretches: p3Stretches, gaps: p3Gaps, dips: p3Dips, margin: 7, barTop: 1323, barH: 7 },
];
const PANEL_H = 519;

const buildOption = () => {
  const grid: any[] = [], xAxis: any[] = [], yAxis: any[] = [], series: any[] = [];
  panels.forEach((p, pi) => {
    grid.push({ left: 19.6, width: (p.max - p.min) * PXK, top: p.top, height: PANEL_H, containLabel: false });
    const ticks: number[] = [];
    p.breaks.forEach((b, i) => {
      const end = i + 1 < p.breaks.length ? p.breaks[i + 1] : p.max;
      for (let t = b; t < end - 0.01; t += 1.5) ticks.push(t);
    });
    const labelOf = new Map(p.labelAt.map((v, i) => [v, p.labels[i]]));
    xAxis.push({
      gridIndex: pi, type: "value", min: p.min, max: p.max, position: "bottom",
      splitLine: { show: false },
      axisLine: { show: true, onZero: false, lineStyle: { color: "#000", width: 2.5 } },
      axisTick: { show: true, length: 4, customValues: ticks, lineStyle: { color: "#333", width: 1 } },
      axisLabel: {
        show: true, customValues: p.labelAt, hideOverlap: false, margin: p.margin,
        formatter: (v: number) => labelOf.get(v) ?? "",
        fontFamily: "Liberation Serif", fontWeight: "bold", fontSize: 22, color: "#000",
      },
    });
    yAxis.push({ gridIndex: pi, type: "value", min: 0, max: ROWS, inverse: true, show: false });

    const profiles = Array.from({ length: ROWS }, (_, r) => rowProfile(p.base, p.stretches, p.gaps, p.dips, r));
    const cuts = Array.from(new Set([p.min, ...p.coding, p.max])).sort((a, b) => a - b);
    const isCoding = (m: number) => { for (let i = 0; i + 1 < p.coding.length; i += 2) if (m > p.coding[i] && m < p.coding[i + 1]) return true; return false; };
    const common = { type: "custom", coordinateSystem: "cartesian2d", xAxisIndex: pi, yAxisIndex: pi, silent: true, clip: false, encode: { x: 0, y: 1 } };

    series.push({
      ...common, z: 2, data: profiles.map((_, r) => [p.min, r]),
      renderItem: (params: any, api: any) => {
        const r = params.dataIndex, pts = profiles[r];
        const yv = (v: number) => r + (100 - Math.max(50, Math.min(100, v))) / 50;
        const c = (x: number, v: number) => api.coord([x, yv(v)]);
        const [lx, midY] = api.coord([p.min, r + 0.5]);
        const [rx] = api.coord([p.max, r]);
        const children: any[] = [{ type: "line", shape: { x1: lx, y1: midY, x2: rx, y2: midY }, style: { stroke: GREY, lineWidth: 1.6 } }];
        for (let i = 0; i + 1 < cuts.length; i++) {
          const a = cuts[i], b = cuts[i + 1];
          const inner = pts.filter((q) => q[0] > a && q[0] < b);
          const piece = [[a, interp(pts, a)], ...inner, [b, interp(pts, b)]];
          if (piece.every((q) => q[1] <= 50)) continue;
          const poly = [c(a, 50), ...piece.map((q) => c(q[0], q[1])), c(b, 50)];
          children.push({ type: "polygon", shape: { points: poly }, style: { fill: isCoding((a + b) / 2) ? CODING : NONCODING } });
        }
        children.push({ type: "polyline", shape: { points: pts.map((q) => c(q[0], q[1])) }, style: { stroke: "#000", fill: "none", lineWidth: 1 } });
        const sepY = api.coord([p.min, r])[1];
        children.push({ type: "line", shape: { x1: lx - 1, y1: sepY, x2: rx + 1, y2: sepY }, style: { stroke: "#000", lineWidth: 2.4 } });
        return { type: "group", children };
      },
    });
    series.push({
      ...common, z: 3, data: p.breaks.map((b) => [b, 0]),
      renderItem: (params: any, api: any) => {
        const [x, y0] = api.coord([api.value(0), 0]);
        const y1 = api.coord([api.value(0), ROWS])[1];
        const isFirst = params.dataIndex === 0;
        return { type: "line", shape: { x1: x - (isFirst ? 1.2 : 0), y1: y0, x2: x - (isFirst ? 1.2 : 0), y2: y1 }, style: { stroke: "#000", lineWidth: 2.2 } };
      },
    });
    series.push({
      ...common, z: 3, data: [[p.max, 0]],
      renderItem: (_: any, api: any) => {
        const [x, y0] = api.coord([p.max, 0]);
        const y1 = api.coord([p.max, ROWS])[1];
        return { type: "line", shape: { x1: x + 1, y1: y0, x2: x + 1, y2: y1 }, style: { stroke: "#000", lineWidth: 2 } };
      },
    });
    const strip: number[][] = [];
    for (let i = 0; i + 1 < p.coding.length; i += 2) strip.push([p.coding[i], p.coding[i + 1]]);
    series.push({
      ...common, z: 3, data: strip,
      renderItem: (_: any, api: any) => {
        const [x0, y] = api.coord([api.value(0), 0]);
        const [x1] = api.coord([api.value(1), 0]);
        return { type: "rect", shape: { x: x0, y: y - 9.5, width: x1 - x0, height: 9 }, style: { fill: CODING } };
      },
    });
    series.push({
      ...common, z: 4, data: p.genes.map((g) => [g[1], g[2]]),
      renderItem: (params: any, api: any) => {
        const g = p.genes[params.dataIndex];
        const [x0, top] = api.coord([g[1], 0]);
        const [x1] = api.coord([g[2], 0]);
        const [lx] = api.coord([g[6], 0]);
        const ay = top + (g[4] === 0 ? -32 : -17.5);
        const ly = top + [-40, -25, -11][g[5]];
        const dir = g[3];
        const tip = dir > 0 ? Math.max(x1, x0 + 4) : Math.min(x0, x1 - 4);
        const tail = dir > 0 ? x0 : x1;
        const neck = tip - dir * 6;
        const points = dir * (neck - tail) > 0
          ? [[tail, ay - 1.4], [neck, ay - 1.4], [neck, ay - 3.6], [tip, ay], [neck, ay + 3.6], [neck, ay + 1.4], [tail, ay + 1.4]]
          : [[tip - dir * 4, ay - 3.4], [tip, ay], [tip - dir * 4, ay + 3.4]];
        return {
          type: "group",
          children: [
            { type: "polygon", shape: { points }, style: { fill: GREY } },
            { type: "text", style: { text: g[0], x: lx, y: ly, fill: "#333", font: "9px 'Liberation Sans'", align: "center", textAlign: "center", verticalAlign: "middle", textVerticalAlign: "middle" } },
          ],
        };
      },
    });
    series.push({
      ...common, z: 4, data: p.sections.map((s) => [s[1], s[2]]),
      renderItem: (params: any, api: any) => {
        const s = p.sections[params.dataIndex];
        const [x0] = api.coord([s[1], 0]);
        const [x1] = api.coord([s[2], 0]);
        return { type: "rect", shape: { x: x0, y: p.barTop, width: x1 - x0, height: p.barH }, style: { fill: sectionColors[s[0]] } };
      },
    });
  });

  const serif = "'Liberation Serif'";
  const graphic: any[] = speciesNames.map((name, i) => ({
    type: "text", left: 612, top: 1403 + i * 23 - 10,
    style: { text: name, font: `italic bold 17.8px ${serif}`, fill: "#000" },
  }));
  graphic.push(
    { type: "rect", left: 848, top: 1866, shape: { width: 14, height: 13 }, style: { fill: CODING } },
    { type: "rect", left: 848, top: 1898, shape: { width: 14, height: 14 }, style: { fill: NONCODING } },
    { type: "text", left: 879, top: 1862, style: { text: "Coding regions", font: `bold 18px ${serif}`, fill: "#000" } },
    { type: "text", left: 879, top: 1894, style: { text: "Non-coding regions", font: `bold 18px ${serif}`, fill: "#000" } },
  );
  return { animation: false, backgroundColor: "#fff", tooltip: { show: false }, grid, xAxis, yAxis, series, graphic };
};

export default function App() {
  const ref = useRef<HTMLDivElement>(null);
  useEffect(() => {
    const chart = echarts.init(ref.current!, undefined, { renderer: "svg" });
    chart.setOption(buildOption() as any);
    return () => chart.dispose();
  }, []);
  return <div ref={ref} style={{ position: "absolute", left: 0, top: 0, width: 1946, height: 1942 }} />;
}
